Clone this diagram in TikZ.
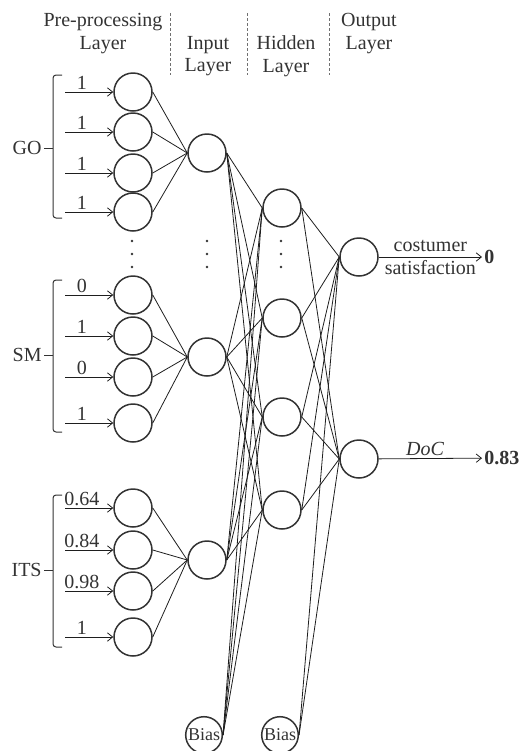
\documentclass[tikz,border=0pt]{standalone}
\usepackage{fontspec}
\setmainfont{Liberation Serif}
\usepackage{tikz}
\usetikzlibrary{arrows.meta,positioning,calc}
\definecolor{ink}{HTML}{333333}
\definecolor{wire}{HTML}{1E1E1E}
\tikzset{
  neuron/.style={circle,draw=ink,line width=0.75pt,minimum size=19pt,inner sep=0pt},
  biasn/.style={neuron,minimum size=18.3pt,font=\fontsize{9}{10}\selectfont,text=ink},
  link/.style={draw=wire,line width=0.4pt},
  feed/.style={link,-{Straight Barb[length=2.6pt,width=4.2pt]}},
  hdr/.style={font=\fontsize{10}{11.3}\selectfont,align=center,text=ink,inner sep=0pt},
  vlab/.style={font=\fontsize{10}{11.5}\selectfont,inner sep=1pt,text=ink},
  res/.style={font=\fontsize{10}{11}\selectfont\bfseries,inner sep=1pt,text=ink},
  grp/.style={draw=ink,line width=0.5pt,rounded corners=1.5pt},   % input group bracket
  sep/.style={draw=ink!70,line width=0.4pt,dash pattern=on 1.5pt off 1pt},
}

\begin{document}
\begin{tikzpicture}[x=0.5pt,y=-0.5pt]
  \useasboundingbox (0,0) rectangle (522,751);

  % layer headings
  \node[hdr] (hpre) at (103,33.5) {Pre-processing\\Layer};
  \node[hdr] (hin)  at (208,56)   {Input\\Layer};
  \node[hdr] (hhid) at (286,56)   {Hidden\\Layer};
  \node[hdr] (hout) at (369,33.5) {Output\\Layer};
  \foreach \x in {170,247,329} \draw[sep] (\x,13) -- (\x,75);

  % pre-processing neurons with their values
  \foreach \n/\y/\v in {go1/92/1,go2/132/1,go3/173/1,go4/212/1,
                        sm1/295/0,sm2/336/1,sm3/377/0,sm4/423/1,
                        its1/508/0.64,its2/550/0.84,its3/591/0.98,its4/637/1}{
    \node[neuron] (\n) at (133,\y) {};
    \coordinate (\n-in) at (65,\y);
    \draw[feed] (\n-in) -- node[vlab,above,pos=0.35]{\v} (\n);
  }

  % groups
  \foreach \g/\t/\m/\b/\lab in {go/75/148/218/GO,sm/280/355/432/SM,its/495/570/647/ITS}{
    \node[vlab,anchor=east] (\g-lab) at (44,\m) {\lab};
    \draw[grp] (62,\t) -| (53,\b) -- (62,\b);
    \draw[grp] (53,\m) -- (\g-lab.east);
  }

  \node[neuron] (in1) at (207,153) {};
  \node[neuron] (in2) at (207,357) {};
  \node[neuron] (in3) at (207,560) {};
  \node[neuron] (hd1) at (282,208) {};
  \node[neuron] (hd2) at (282,318) {};
  \node[neuron] (hd3) at (282,417) {};
  \node[neuron] (hd4) at (282,510) {};
  \node[neuron] (out1) at (359,257) {};
  \node[neuron] (out2) at (359,459) {};
  \node[biasn] (b1) at (204,735) {Bias};
  \node[biasn] (b2) at (280,735) {Bias};

  \foreach \x in {132,207,281} \foreach \y in {241,254,267} \fill[ink] (\x,\y) circle (0.7pt);

  \foreach \g/\k in {go/1,sm/2,its/3} \foreach \j in {1,...,4} \draw[link] (\g\j.east) -- (in\k.west);
  \foreach \i in {1,2,3} \foreach \j in {1,...,4} \draw[link] (in\i.east) -- (hd\j.west);
  \foreach \j in {1,...,4}{
    \draw[link] (b1.east) -- (hd\j.west);
    \foreach \k in {1,2} \draw[link] (hd\j.east) -- (out\k.west);
  }
  \foreach \k in {1,2} \draw[link] (b2.east) -- (out\k.west);

  % results
  \node[res,anchor=west] (r1) at (482,257) {0};
  \node[res,anchor=west] (r2) at (482,458) {0.83};
  \draw[feed] (out1) -- node[vlab,align=center]{costumer\\satisfaction} (r1);
  \draw[feed] (out2) -- node[vlab,above,pos=0.45]{\textit{DoC}} (r2);
\end{tikzpicture}
\end{document}
